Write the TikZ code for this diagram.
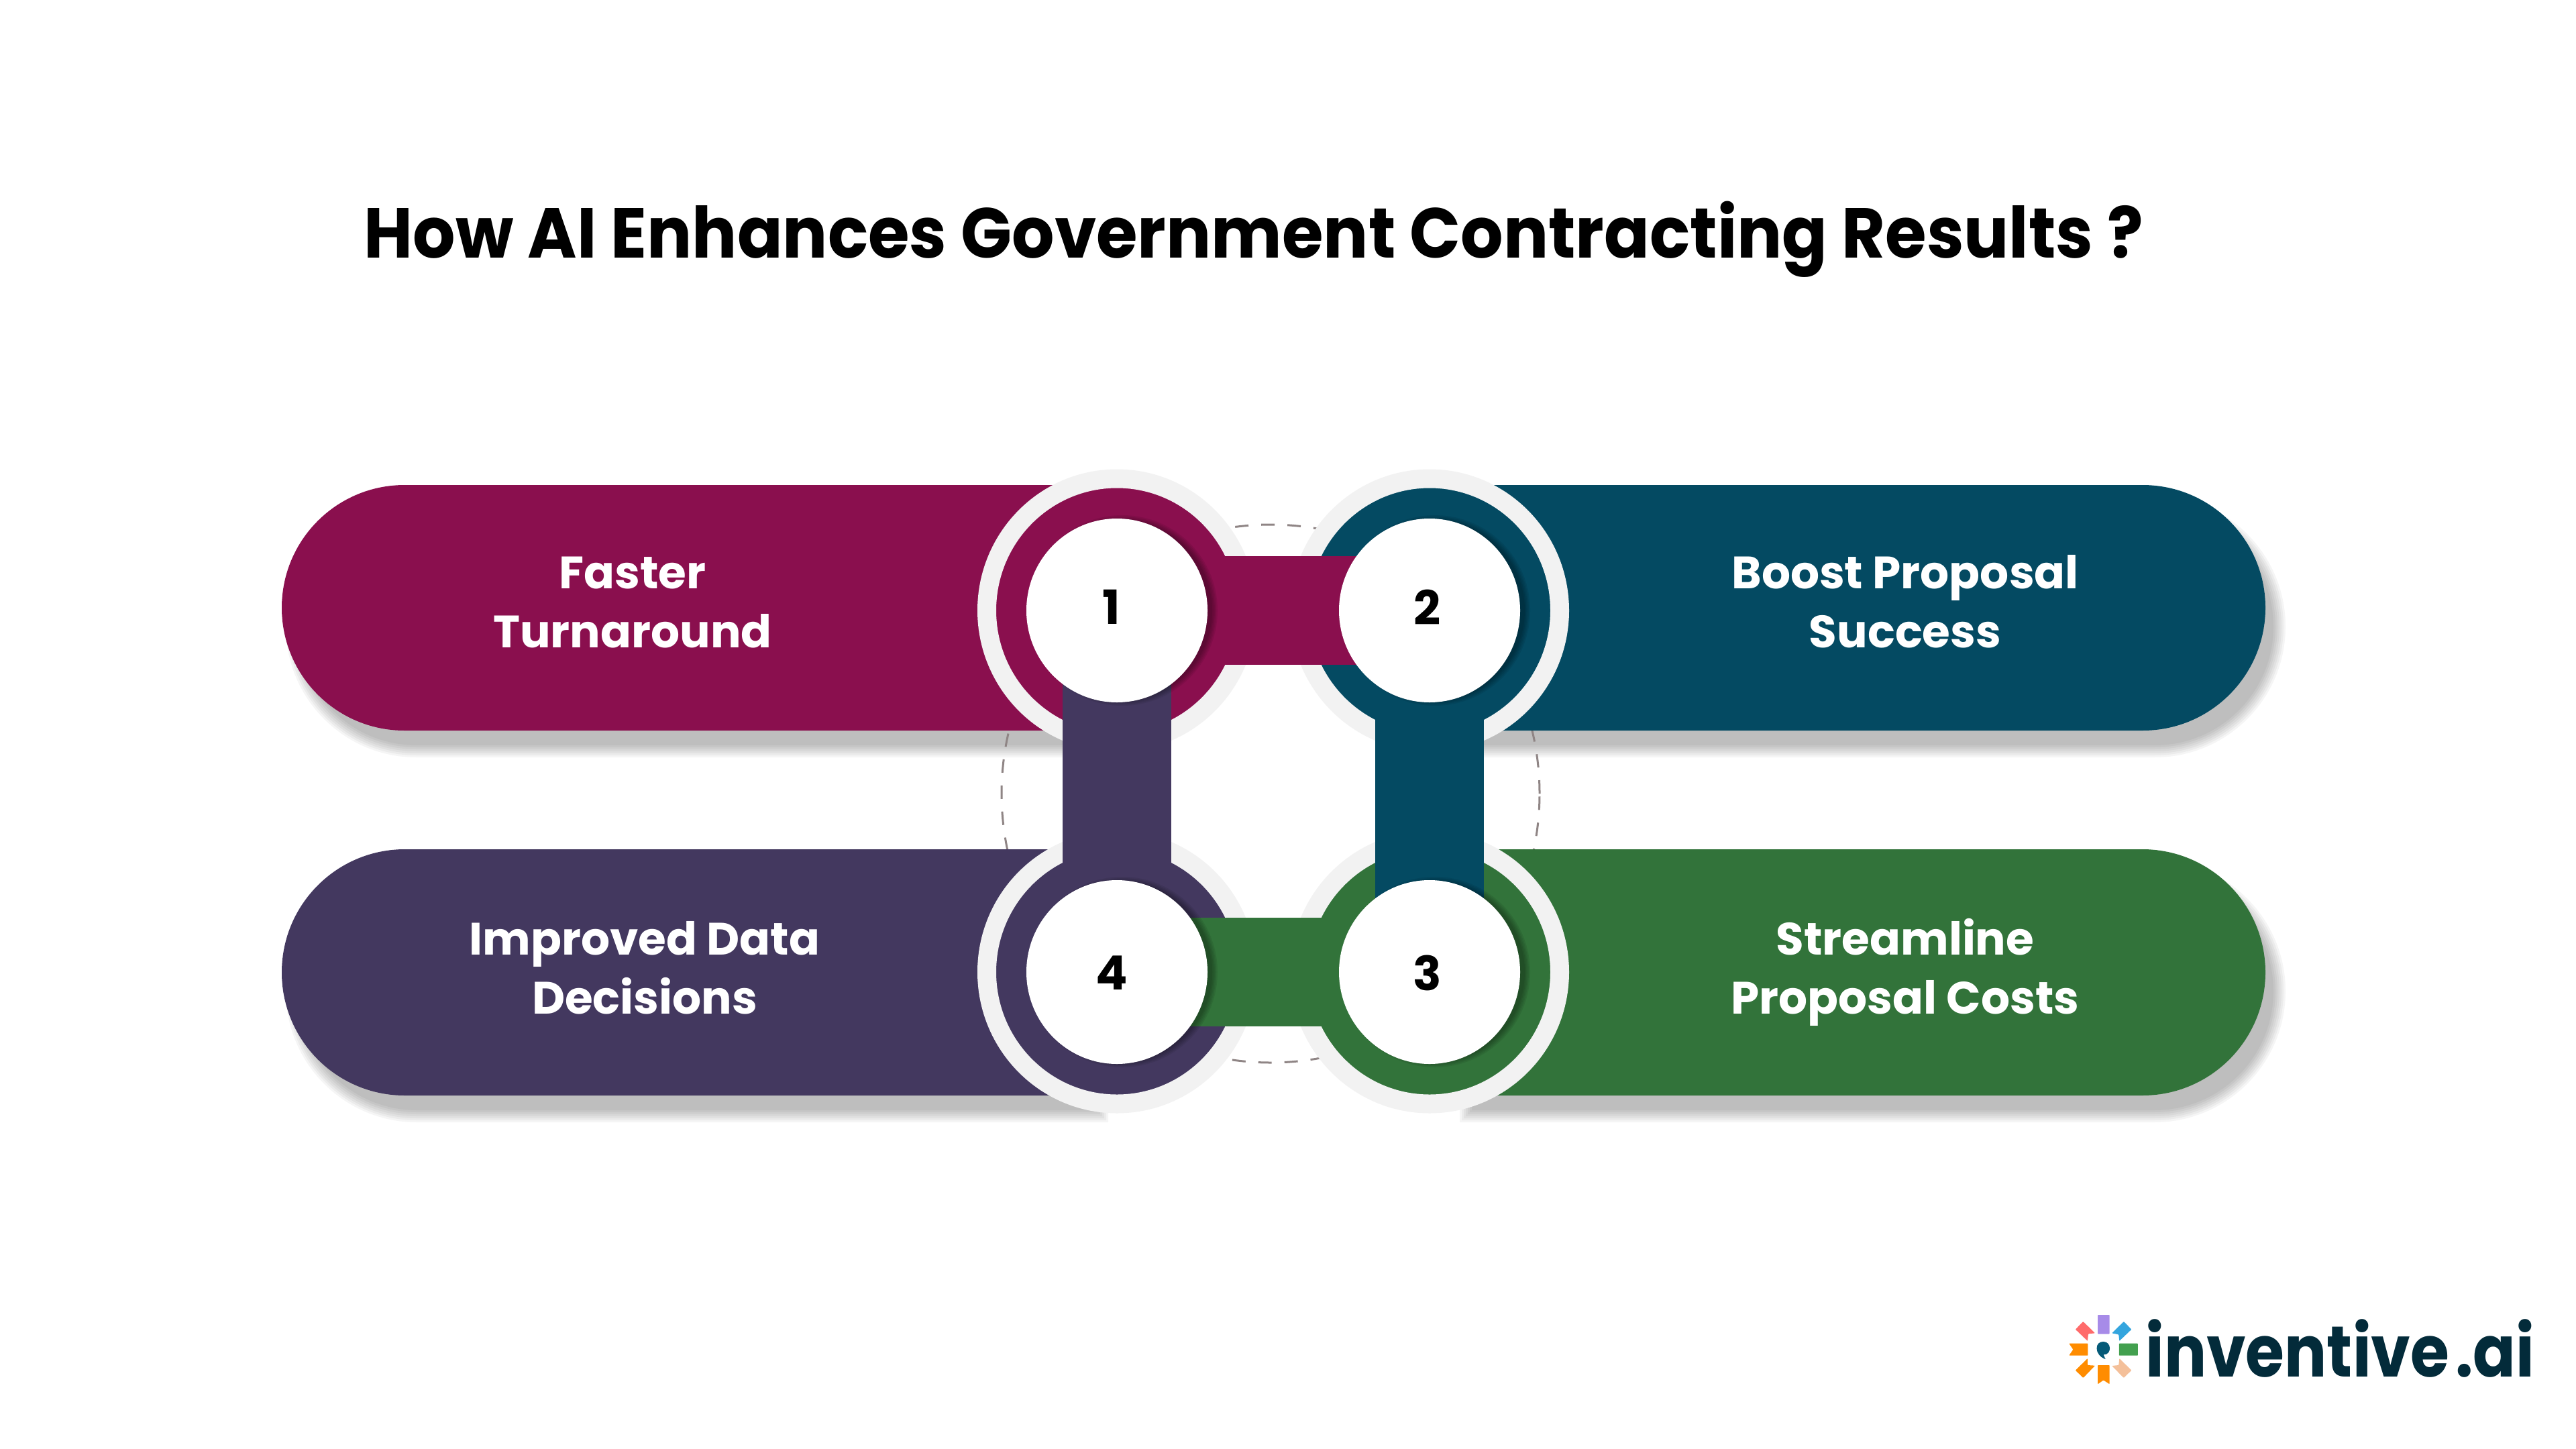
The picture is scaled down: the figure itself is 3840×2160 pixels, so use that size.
\documentclass[tikz,border=0pt]{standalone}
\usepackage{graphicx}
\usepackage{fontspec}
\usetikzlibrary{shapes.geometric}
\setmainfont{Poppins}
\definecolor{maroonc}{HTML}{8A0F4E}
\definecolor{bluec}{HTML}{044A62}
\definecolor{greenc}{HTML}{32733A}
\definecolor{purplec}{HTML}{43385F}
\definecolor{ringc}{HTML}{F2F2F2}
\definecolor{dashc}{HTML}{8F8585}
\definecolor{logoc}{HTML}{032B3A}
\tikzset{
  ringnode/.style={ellipse,inner sep=0pt,outer sep=0pt,minimum width={388*0.02cm},minimum height={393*0.02cm},line width={28*0.02cm},draw=ringc,fill=#1},
  whitenode/.style={ellipse,inner sep=0pt,outer sep=0pt,minimum width={270*0.02cm},minimum height={274*0.02cm},fill=white},
  linkbar/.style={line width={162*0.02cm},draw=#1},
  numlabel/.style={font=\bfseries\fontsize{40}{40}\selectfont,text=black,inner sep=0pt},
  pilllabel/.style={font=\bfseries\fontsize{38.5}{50}\selectfont,text=white,align=center,inner sep=0pt},
}
\newcommand{\twolines}[2]{\strut #1\\\strut #2}
% #1 inner x, #2 outer x, #3 top y, #4 bottom y, #5 radius
\newcommand{\pillpath}[5]{(#1,#3) [rounded corners={#5*0.02cm}] -- (#2,#3) -- (#2,#4) [sharp corners] -- (#1,#4) -- cycle}
\newcommand{\pillshadow}[4]{%
  \foreach \e in {-6,-3,0,3,6,9,12}{%
    \pgfmathsetmacro{\ta}{#3-\e}\pgfmathsetmacro{\tb}{#4+\e}\pgfmathsetmacro{\rr}{(#4-#3)/2+\e}%
    \pgfmathsetmacro{\oo}{#2>#1 ? #2+\e : #2-\e}%
    \pgfmathsetmacro{\ii}{#2>#1 ? #1-\e : #1+\e}%
    \fill[black,opacity=0.04] \pillpath{\ii}{\oo}{\ta}{\tb}{\rr};
  }}
\newcommand{\whiteshadow}[1]{%
  \foreach \e in {0,2,4,6,8}{%
    \fill[black,opacity=0.07] ([shift={(8,0)}]#1.center) circle ({(134+\e)*0.02cm});
  }}
\begin{document}
\begin{tikzpicture}[x=0.02cm,y=-0.02cm]
\useasboundingbox (0,0) rectangle (3840,2160);
\fill[white] (0,0) rectangle (3840,2160);
% shadows
\pillshadow{1640}{438}{751}{1117}
\pillshadow{2188}{3395}{751}{1117}
\pillshadow{1640}{438}{1294}{1661}
\pillshadow{2188}{3395}{1294}{1661}
% dashed guide
\node[circle,draw=dashc,line width={3*0.02cm},dash pattern=on 0.4cm off 0.38cm,minimum size={802*0.02cm},inner sep=0pt] (guide) at (1894,1183) {};
% pills
\fill[maroonc] \pillpath{1665}{420}{723}{1089}{183};
\fill[bluec] \pillpath{2131}{3377}{723}{1089}{183};
\fill[purplec] \pillpath{1665}{420}{1266}{1633}{183.5};
\fill[greenc] \pillpath{2131}{3377}{1266}{1633}{183.5};
% rings
\node[ringnode=maroonc] (c1) at (1665,910) {};
\node[ringnode=bluec] (c2) at (2131,910) {};
\node[ringnode=greenc] (c3) at (2131,1449) {};
\node[ringnode=purplec] (c4) at (1665,1449) {};
% connectors
\draw[linkbar=maroonc] (c1.center) -- (c2.center);
\draw[linkbar=bluec] (c2.center) -- (c3.center);
\draw[linkbar=greenc] (c3.center) -- (c4.center);
\draw[linkbar=purplec] (c4.center) -- (c1.center);
% white discs
\whiteshadow{c1}\whiteshadow{c2}\whiteshadow{c3}\whiteshadow{c4}
\node[whitenode] (w1) at (c1) {};
\node[whitenode] (w2) at (c2) {};
\node[whitenode] (w3) at (c3) {};
\node[whitenode] (w4) at (c4) {};
\node[numlabel] (d1) at (1657,905) {1};
\node[numlabel] (d2) at (2128,905) {2};
\node[numlabel] (d3) at (2128,1450) {3};
\node[numlabel] (d4) at (1657,1450) {4};
% labels
\node[pilllabel] (t1) at (943,904) {\twolines{Faster}{Turnaround}};
\node[pilllabel] (t2) at (2840,904) {\twolines{Boost Proposal}{Success}};
\node[pilllabel] (t3) at (2840,1450) {\twolines{Streamline}{Proposal Costs}};
\node[pilllabel] (t4) at (961,1450) {\twolines{Improved Data}{Decisions}};
% title
\node[anchor=base,inner sep=0pt,font=\bfseries\fontsize{60}{60}\selectfont] (title) at (1869,384) {\scalebox{0.946}[1]{How AI Enhances Government Contracting Results ?}};
% logo
\begin{scope}[shift={(3050,1930)},x=0.010076cm,y=0.006667cm,yscale=-1]
\fill[rounded corners=0.5pt,fill={rgb,255:red,167;green,139;blue,232}] (153,90) rectangle (188,176);
\fill[rounded corners=0.5pt,fill={rgb,255:red,67;green,160;blue,79}] (216,218) rectangle (272,272);
\fill[rounded corners=0.5pt,fill={rgb,255:red,255;green,140;blue,0}] (68,218) -- (124,218) -- (124,272) -- (68,272) -- (80,245) -- cycle;
\fill[rounded corners=0.5pt,fill={rgb,255:red,255;green,140;blue,0}] (153,315) -- (188,315) -- (188,400) -- (170,382) -- (153,400) -- cycle;
\fill[rounded corners=0.5pt,fill={rgb,255:red,255;green,107;blue,107}] (110,120) -- (145,172) -- (125,175) -- (123,207) -- (87,155) -- cycle;
\fill[rounded corners=0.5pt,fill={rgb,255:red,52;green,165;blue,222}] (230,120) -- (253,155) -- (217,207) -- (215,178) -- (195,172) -- cycle;
\fill[rounded corners=0.5pt,fill={rgb,255:red,255;green,140;blue,0}] (123,285) -- (123,315) -- (145,317) -- (110,372) -- (87,338) -- cycle;
\fill[rounded corners=0.5pt,fill={rgb,255:red,244;green,192;blue,154}] (195,318) -- (215,315) -- (217,285) -- (253,338) -- (230,372) -- cycle;
\fill[fill={rgb,255:red,5;green,90;blue,120}] (170,210) .. controls (195,210) and (195,270) .. (170,268) -- (176,288) .. controls (160,280) and (150,260) .. (150,240) .. controls (150,220) and (158,210) .. (170,210) -- cycle;
\end{scope}
\node[anchor=base west,inner sep=0pt,text=logoc,font=\bfseries\fontsize{61}{61}\selectfont] (logo) at (3198,2052) {\scalebox{0.875}[1]{inventive\kern 6pt.ai}};
\end{tikzpicture}
\end{document}
